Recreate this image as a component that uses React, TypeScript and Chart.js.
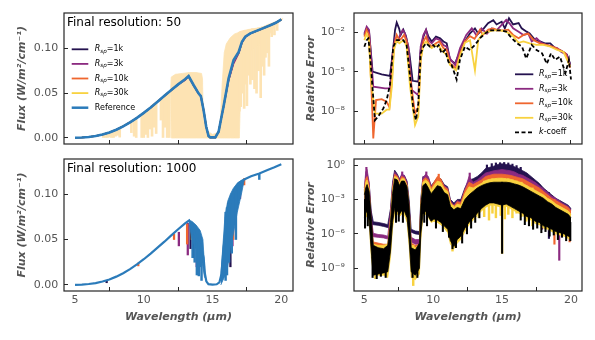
import React, { useEffect, useRef } from 'react';
import { Chart, registerables } from 'chart.js';

Chart.register(...registerables);

const FONT = "'DejaVu Sans', sans-serif";
Chart.defaults.font.family = FONT;

type Pt = [number, number];
type Tri = [number, number, number];

// ---------- colours ----------
const C1K = '#24124f';
const C3K = '#8b2a80';
const C10K = '#ef662f';
const C30K = '#f8d240';
const CREF = '#2b7bba';
const CK = '#000000';
const CHR = '#fde3b3';

// ---------- ticks / labels ----------
const xTickValues = [5, 10, 15, 20];
const xTickLabels = ['5', '10', '15', '20'];
const fluxTickValues = [0, 0.05, 0.1];
const fluxTickLabels = ['0.00', '0.05', '0.10'];
const errTopTickValues = [1e-8, 1e-5, 1e-2];
const errTopTickLabels = ['10⁻⁸', '10⁻⁵', '10⁻²'];
const errBotTickValues = [1e-9, 1e-6, 1e-3, 1];
const errBotTickLabels = ['10⁻⁹', '10⁻⁶', '10⁻³', '10⁰'];
const panelTitles = ['Final resolution: 50', 'Final resolution: 1000'];
const seriesNames = ['1k', '3k', '10k', '30k'];
const fluxTitle = 'Flux (W/m²/cm⁻¹)';
const errTitle = 'Relative Error';
const waveTitle = 'Wavelength (μm)';

// ---------- top-left: flux at resolution 50 ----------
const ref50: Pt[] = [[5.0,0.0002],[5.5,0.0005],[6.0,0.0011],[6.5,0.0022],[7.0,0.0038],[7.5,0.0062],[8.0,0.0092],[8.5,0.013],[9.0,0.0175],[9.5,0.0225],[10.0,0.028],[10.5,0.034],[11.0,0.0405],[11.5,0.047],[12.0,0.0535],[12.5,0.0598],[13.0,0.0655],[13.26,0.0691],[13.62,0.0591],[13.98,0.0498],[14.15,0.0468],[14.35,0.031],[14.54,0.0126],[14.71,0.0022],[14.83,0.0007],[15.2,0.0007],[15.44,0.007],[15.56,0.0164],[15.8,0.035],[16.17,0.0665],[16.53,0.087],[16.9,0.096],[17.14,0.1074],[17.38,0.113],[17.75,0.1167],[18.47,0.1211],[19.2,0.1258],[19.6,0.1285],[20.0,0.1322]];
const tl1k: Pt[] = [[5.0,0.0002],[5.5,0.0005],[6.0,0.0011],[6.5,0.0022],[7.0,0.0038],[7.5,0.0062],[8.0,0.0092],[8.5,0.013],[9.0,0.0175],[9.5,0.0225],[10.0,0.028],[10.5,0.034],[11.0,0.0405],[11.5,0.047],[12.0,0.0535],[12.5,0.0597],[13.0,0.0652],[13.26,0.0686],[13.62,0.0589],[13.98,0.0497],[14.15,0.0466],[14.35,0.031],[14.54,0.0126],[14.71,0.0022],[14.83,0.0007],[15.2,0.0007],[15.44,0.007],[15.56,0.0164],[15.8,0.035],[16.17,0.065],[16.53,0.085],[16.9,0.095],[17.14,0.1068],[17.38,0.1127],[17.75,0.1166],[18.47,0.1211],[19.2,0.1258],[19.6,0.1285],[20.0,0.1322]];
const tl3k: Pt[] = [[5.0,0.0002],[5.5,0.0005],[6.0,0.0011],[6.5,0.0022],[7.0,0.0038],[7.5,0.0062],[8.0,0.0092],[8.5,0.013],[9.0,0.0175],[9.5,0.0225],[10.0,0.028],[10.5,0.034],[11.0,0.0405],[11.5,0.047],[12.0,0.0535],[12.5,0.0596],[13.0,0.0645],[13.26,0.0684],[13.62,0.0588],[13.98,0.0497],[14.15,0.0466],[14.35,0.031],[14.54,0.0126],[14.71,0.0022],[14.83,0.0007],[15.2,0.0007],[15.44,0.007],[15.56,0.0164],[15.8,0.035],[16.17,0.0645],[16.53,0.083],[16.9,0.0945],[17.14,0.1065],[17.38,0.1126],[17.75,0.1166],[18.47,0.1211],[19.2,0.1258],[19.6,0.1285],[20.0,0.1322]];
const tl10k: Pt[] = [[5.0,0.0002],[5.5,0.0005],[6.0,0.0011],[6.5,0.0022],[7.0,0.0038],[7.5,0.0062],[8.0,0.0092],[8.5,0.013],[9.0,0.0175],[9.5,0.0225],[10.0,0.028],[10.5,0.034],[11.0,0.0405],[11.5,0.047],[12.0,0.0535],[12.5,0.0598],[13.0,0.0653],[13.26,0.069],[13.62,0.059],[13.98,0.0498],[14.15,0.0468],[14.35,0.031],[14.54,0.0126],[14.71,0.0022],[14.83,0.0007],[15.2,0.0007],[15.44,0.007],[15.56,0.0164],[15.8,0.035],[16.17,0.066],[16.53,0.0862],[16.9,0.0957],[17.14,0.1072],[17.38,0.113],[17.75,0.1167],[18.47,0.1211],[19.2,0.1258],[19.6,0.1285],[20.0,0.1322]];
const tl30k: Pt[] = [[5.0,0.0002],[5.5,0.0005],[6.0,0.0011],[6.5,0.0022],[7.0,0.0038],[7.5,0.0062],[8.0,0.0092],[8.5,0.013],[9.0,0.0175],[9.5,0.0225],[10.0,0.028],[10.5,0.034],[11.0,0.0405],[11.5,0.047],[12.0,0.0535],[12.5,0.0598],[13.0,0.0655],[13.26,0.0691],[13.62,0.0591],[13.98,0.0498],[14.15,0.0468],[14.35,0.031],[14.54,0.0126],[14.71,0.0022],[14.83,0.0007],[15.2,0.0007],[15.44,0.007],[15.56,0.0164],[15.8,0.035],[16.17,0.0663],[16.53,0.0866],[16.9,0.0959],[17.14,0.1073],[17.38,0.113],[17.75,0.1167],[18.47,0.1211],[19.2,0.1258],[19.6,0.1285],[20.0,0.1322]];
// high-resolution spectrum: dense band [x, low, high] and single lines [x, low, high]
const hiResBand: Tri[] = [[11.95,0.053,0.053],[12.0,0.0,0.068],[12.3,0.0,0.071],[12.8,0.0,0.072],[13.3,0.0,0.073],[13.8,0.0,0.073],[14.2,0.0,0.072],[14.27,0.0,0.066],[14.33,0.0,0.02],[14.6,0.0,0.008],[15.0,0.0,0.004],[15.4,0.0,0.006],[15.55,0.0,0.015],[15.7,0.0,0.06],[15.85,0.0,0.095],[16.0,0.0,0.105],[16.3,0.0,0.112],[16.6,0.0,0.116],[16.95,0.0,0.118],[17.05,0.06,0.119],[17.3,0.085,0.12],[17.6,0.095,0.121],[18.0,0.1,0.122],[18.5,0.105,0.123],[19.0,0.112,0.126],[19.5,0.125,0.129],[20.0,0.131,0.1325],[20.1,0.133,0.1335]];
const hiResLines: Tri[] = [[7.05,0.0,0.0042],[7.2,0.0,0.0048],[7.35,0.0,0.0054],[7.5,0.001,0.006],[7.65,0.0,0.0067],[7.8,0.0,0.0075],[7.95,0.002,0.0082],[8.1,0.003,0.009],[8.25,0.001,0.0098],[9.1,0.006,0.0185],[9.3,0.002,0.0205],[9.45,0.0,0.022],[9.85,0.0,0.0265],[10.0,0.0,0.0283],[10.15,0.004,0.03],[10.3,0.0,0.032],[10.45,0.01,0.034],[10.6,0.002,0.036],[10.75,0.012,0.038],[10.9,0.005,0.04],[11.25,0.02,0.044],[11.4,0.0,0.046],[11.55,0.012,0.048],[11.7,0.0,0.05],[11.85,0.0,0.052],[16.95,0.03,0.118],[17.05,0.035,0.119],[17.15,0.05,0.119],[17.3,0.033,0.12],[17.4,0.06,0.12],[17.5,0.036,0.12],[17.65,0.07,0.121],[17.75,0.06,0.121],[17.9,0.065,0.122],[18.05,0.055,0.122],[18.2,0.05,0.122],[18.35,0.075,0.123],[18.5,0.045,0.123],[18.6,0.08,0.124],[18.75,0.07,0.124],[18.85,0.09,0.125],[19.0,0.095,0.126],[19.1,0.08,0.127],[19.3,0.113,0.128],[19.5,0.115,0.129],[19.7,0.12,0.13]];

// ---------- top-right: relative error (log10) at resolution 50 ----------
const tr1k: Pt[] = [[5.0,-2.2],[5.17,-1.7],[5.34,-1.95],[5.6,-5.0],[6.26,-5.2],[6.86,-5.33],[7.06,-3.6],[7.23,-1.82],[7.35,-1.26],[7.52,-1.7],[7.64,-2.2],[7.83,-1.8],[8.03,-2.33],[8.27,-3.6],[8.51,-5.7],[8.92,-5.77],[9.09,-3.35],[9.29,-2.33],[9.48,-1.82],[9.65,-2.33],[9.89,-2.7],[10.2,-2.33],[10.5,-2.46],[10.74,-2.7],[10.98,-2.84],[11.22,-4.1],[11.59,-4.37],[11.95,-3.45],[12.3,-2.7],[12.67,-2.08],[13.03,-1.7],[13.27,-2.1],[13.6,-1.8],[13.98,-1.3],[14.36,-1.07],[14.6,-1.4],[14.97,-1.2],[15.2,-1.7],[15.5,-0.93],[15.8,-1.4],[16.2,-1.3],[16.42,-1.7],[16.78,-1.95],[17.0,-2.08],[17.4,-2.6],[17.75,-2.7],[18.1,-2.84],[18.5,-2.84],[18.85,-3.2],[19.2,-3.35],[19.45,-3.5],[19.7,-3.7],[19.94,-4.4]];
const tr3k: Pt[] = [[5.0,-2.1],[5.17,-1.57],[5.34,-1.82],[5.65,-6.15],[6.5,-6.27],[6.86,-6.27],[7.06,-3.6],[7.23,-2.46],[7.42,-2.7],[7.6,-2.2],[7.78,-1.82],[7.95,-2.08],[8.2,-3.1],[8.44,-6.4],[8.92,-6.8],[9.09,-3.1],[9.29,-2.2],[9.48,-1.82],[9.65,-2.6],[9.89,-2.84],[10.2,-2.46],[10.5,-2.6],[10.74,-2.97],[10.98,-3.1],[11.22,-4.0],[11.59,-4.5],[11.95,-3.2],[12.4,-2.2],[12.8,-1.7],[13.15,-2.25],[13.5,-1.7],[13.9,-2.1],[14.25,-1.7],[14.6,-1.85],[15.0,-1.4],[15.3,-1.05],[15.6,-1.4],[15.8,-1.7],[16.2,-1.95],[16.55,-2.2],[16.9,-2.1],[17.15,-2.7],[17.5,-2.45],[17.85,-2.8],[18.2,-2.96],[18.6,-3.1],[19.0,-3.2],[19.3,-3.5],[19.7,-3.7],[19.94,-4.5]];
const tr10k: Pt[] = [[5.0,-2.33],[5.17,-1.82],[5.34,-2.2],[5.53,-6.66],[5.65,-10.1],[5.85,-7.17],[6.26,-7.1],[6.62,-7.3],[6.82,-7.7],[7.0,-5.64],[7.15,-3.1],[7.35,-2.2],[7.54,-2.6],[7.71,-2.46],[7.88,-2.2],[8.07,-2.7],[8.32,-5.4],[8.68,-8.2],[8.92,-7.7],[9.09,-4.1],[9.29,-2.7],[9.48,-2.33],[9.65,-2.84],[9.89,-3.1],[10.2,-2.84],[10.45,-2.7],[10.74,-3.2],[10.98,-3.35],[11.22,-4.37],[11.66,-4.75],[11.95,-3.6],[12.3,-2.7],[12.67,-2.3],[13.0,-2.5],[13.4,-1.8],[13.6,-2.2],[14.0,-1.8],[14.36,-1.7],[14.7,-1.85],[15.1,-1.85],[15.45,-1.8],[15.8,-2.2],[16.2,-2.45],[16.55,-2.2],[16.9,-2.1],[17.3,-2.6],[17.75,-2.84],[18.2,-2.96],[18.7,-3.1],[19.2,-3.35],[19.6,-3.6],[19.94,-4.7]];
const tr30k: Pt[] = [[5.0,-2.6],[5.17,-2.1],[5.34,-2.6],[5.46,-5.4],[5.77,-8.2],[6.26,-8.2],[6.62,-7.9],[6.82,-7.9],[7.0,-6.1],[7.15,-3.35],[7.35,-2.6],[7.54,-2.84],[7.71,-2.7],[7.88,-2.6],[8.07,-3.1],[8.32,-6.15],[8.68,-9.07],[8.92,-8.4],[9.09,-4.1],[9.29,-2.97],[9.48,-2.7],[9.65,-2.97],[9.89,-3.2],[10.2,-2.97],[10.45,-3.1],[10.74,-3.5],[10.98,-3.73],[11.22,-4.5],[11.66,-4.9],[11.95,-3.8],[12.3,-2.8],[12.67,-2.6],[13.03,-4.9],[13.27,-2.6],[13.6,-2.1],[14.0,-1.95],[14.36,-1.85],[14.85,-1.85],[15.3,-1.95],[15.8,-2.3],[16.2,-2.8],[16.55,-2.7],[17.0,-2.84],[17.5,-2.96],[18.0,-2.96],[18.5,-3.1],[19.0,-3.35],[19.45,-3.5],[19.94,-4.6]];
const trK: Pt[] = [[5.0,-3.1],[5.17,-2.6],[5.3,-2.46],[5.46,-4.37],[5.77,-8.7],[6.02,-8.4],[6.38,-7.8],[6.62,-7.17],[6.86,-6.0],[7.1,-3.1],[7.35,-2.6],[7.83,-2.6],[8.07,-2.97],[8.32,-5.4],[8.56,-7.9],[8.75,-8.7],[8.92,-7.4],[9.09,-3.6],[9.29,-3.1],[9.48,-2.84],[9.77,-3.1],[10.0,-2.97],[10.2,-3.2],[10.4,-2.97],[10.6,-3.6],[10.86,-3.35],[11.1,-4.24],[11.34,-4.5],[11.7,-5.6],[11.94,-4.1],[12.3,-3.1],[12.67,-3.35],[13.03,-2.96],[13.4,-2.45],[13.75,-2.1],[14.1,-1.85],[14.5,-1.85],[14.85,-1.85],[15.3,-1.95],[15.7,-2.45],[16.1,-2.84],[16.45,-3.1],[16.75,-4.0],[17.15,-2.96],[17.5,-3.35],[17.9,-3.6],[18.25,-4.4],[18.55,-3.6],[18.85,-4.1],[19.2,-3.86],[19.6,-5.1],[19.85,-4.1],[20.0,-5.6]];

// ---------- bottom-left: flux at resolution 1000 ----------
const ref1000: Pt[] = [[5.0,0.0002],[5.5,0.0005],[6.0,0.0011],[6.5,0.0021],[7.0,0.0038],[7.5,0.0061],[8.0,0.0092],[8.5,0.013],[9.0,0.0175],[9.5,0.0226],[10.0,0.0283],[10.5,0.0345],[11.0,0.041],[11.5,0.0476],[12.0,0.0546],[12.5,0.0613],[13.0,0.0678],[13.3,0.071],[13.45,0.066],[13.6,0.061],[13.8,0.052],[14.0,0.046],[14.2,0.04],[14.35,0.03],[14.45,0.012],[14.55,0.004],[14.7,0.001],[15.0,0.0005],[15.3,0.0008],[15.5,0.003],[15.65,0.012],[15.8,0.04],[16.0,0.07],[16.3,0.09],[16.6,0.103],[16.9,0.112],[17.3,0.116],[17.8,0.1195],[18.4,0.1225],[19.0,0.1265],[19.5,0.1295],[20.0,0.1327]];
const ref1000BandA: Tri[] = [[13.3,0.068,0.071],[13.5,0.05,0.07],[13.8,0.04,0.066],[14.1,0.035,0.06],[14.3,0.02,0.05],[14.42,0.008,0.02]];
const ref1000BandB: Tri[] = [[15.6,0.0,0.01],[15.9,0.01,0.075],[16.1,0.02,0.092],[16.3,0.04,0.1],[16.5,0.055,0.106],[16.8,0.08,0.112],[17.1,0.1,0.115],[17.3,0.115,0.116]];
const ref1000Lines: Tri[] = [[13.55,0.03,0.065],[13.7,0.025,0.06],[13.86,0.011,0.055],[14.0,0.01,0.048],[14.12,0.02,0.045],[14.2,0.005,0.042],[15.95,0.005,0.08],[16.05,0.011,0.085],[16.2,0.025,0.09],[16.4,0.035,0.1],[16.7,0.05,0.108],[18.4,0.116,0.1225]];
const bl1kLines: Tri[] = [[7.3,0.0025,0.0048],[13.4,0.04,0.066],[13.6,0.03,0.062],[16.15,0.03,0.09],[16.3,0.02,0.07]];
const bl3kLines: Tri[] = [[12.55,0.043,0.058],[13.2,0.033,0.068],[13.85,0.02,0.05],[16.45,0.043,0.1],[17.0,0.095,0.112]];
const bl10kLines: Tri[] = [[9.6,0.021,0.024],[12.2,0.05,0.056],[13.15,0.045,0.067],[16.5,0.05,0.1],[17.3,0.11,0.117]];
const bl30kLines: Tri[] = [[13.5,0.05,0.065],[16.35,0.055,0.095]];

// ---------- bottom-right: relative error (log10) at resolution 1000, [x, low, high] ----------
const br1k: Tri[] = [[5.0,-3.0,-2.2],[5.1,-3.0,-1.0],[5.2,-3.0,-0.8],[5.35,-3.5,-1.6],[5.5,-5.2,-4.0],[5.65,-5.2,-4.95],[6.0,-5.25,-5.0],[6.4,-5.35,-5.1],[6.7,-5.45,-5.2],[6.9,-5.5,-3.8],[7.05,-3.5,-1.5],[7.2,-2.5,-0.45],[7.4,-2.5,-0.8],[7.55,-3.0,-1.2],[7.7,-2.5,-0.9],[7.9,-2.5,-0.9],[8.1,-3.0,-1.4],[8.25,-5.0,-3.0],[8.4,-5.85,-5.6],[8.7,-6.0,-5.75],[9.0,-6.05,-5.8],[9.1,-5.0,-3.0],[9.25,-3.0,-1.0],[9.45,-3.0,-1.1],[9.65,-3.0,-1.1],[9.85,-3.5,-1.8],[10.05,-3.5,-1.5],[10.3,-3.5,-1.1],[10.55,-3.5,-1.2],[10.8,-3.8,-1.7],[11.05,-4.0,-1.9],[11.25,-5.0,-3.0],[11.5,-5.3,-3.3],[11.75,-5.0,-3.0],[12.0,-5.0,-3.0],[12.3,-4.0,-2.0],[12.6,-3.5,-1.3],[12.9,-3.2,-1.2],[13.2,-3.0,-1.0],[13.5,-2.5,-0.7],[13.8,-2.2,-0.3],[14.1,-2.0,-0.2],[14.4,-2.0,-0.1],[14.7,-2.0,0.05],[15.0,-2.0,0.1],[15.3,-2.0,0.05],[15.6,-2.0,0.0],[15.9,-2.2,-0.15],[16.2,-2.3,-0.3],[16.5,-2.5,-0.5],[16.8,-2.7,-0.7],[17.1,-3.0,-1.0],[17.4,-3.2,-1.3],[17.7,-3.4,-1.6],[18.0,-3.6,-2.0],[18.3,-3.8,-2.3],[18.6,-4.0,-2.6],[18.9,-4.3,-2.9],[19.2,-4.5,-3.1],[19.5,-4.7,-3.3],[19.8,-5.0,-3.5],[20.0,-5.2,-3.8]];
const br3k: Tri[] = [[5.0,-3.5,-2.0],[5.1,-3.5,-0.6],[5.2,-3.5,-0.4],[5.35,-4.0,-1.5],[5.5,-6.0,-4.5],[5.65,-6.25,-5.95],[6.0,-6.3,-6.05],[6.4,-6.35,-6.1],[6.7,-6.45,-6.2],[6.9,-6.3,-4.0],[7.05,-4.0,-1.7],[7.2,-3.0,-0.6],[7.4,-3.0,-0.9],[7.55,-3.5,-1.3],[7.7,-3.0,-0.8],[7.9,-3.0,-0.9],[8.1,-3.5,-1.5],[8.25,-5.5,-3.5],[8.4,-6.7,-6.3],[8.7,-6.9,-6.5],[9.0,-6.9,-6.5],[9.1,-5.5,-3.2],[9.25,-3.5,-1.1],[9.45,-3.2,-0.8],[9.65,-3.3,-1.0],[9.85,-4.0,-1.9],[10.05,-4.0,-1.6],[10.3,-4.0,-1.2],[10.55,-4.0,-1.3],[10.8,-4.2,-1.8],[11.05,-4.5,-2.0],[11.25,-5.5,-3.1],[11.5,-6.0,-3.5],[11.75,-5.5,-3.1],[12.0,-5.5,-3.2],[12.3,-4.5,-2.1],[12.6,-3.8,-1.0],[12.9,-3.5,-1.5],[13.2,-3.3,-1.3],[13.5,-3.0,-1.0],[13.8,-2.7,-0.7],[14.1,-2.5,-0.6],[14.4,-2.5,-0.5],[14.7,-2.5,-0.45],[15.0,-2.5,-0.4],[15.3,-2.5,-0.45],[15.6,-2.6,-0.5],[15.9,-2.8,-0.6],[16.2,-3.0,-0.8],[16.5,-3.0,-0.9],[16.8,-3.2,-1.1],[17.1,-3.4,-1.3],[17.4,-3.6,-1.5],[17.7,-3.8,-1.8],[18.0,-4.0,-2.1],[18.3,-4.2,-2.4],[18.6,-4.4,-2.7],[18.9,-4.6,-2.9],[19.2,-4.8,-3.2],[19.5,-5.0,-3.4],[19.8,-5.2,-3.6],[20.0,-5.4,-3.9]];
const br10k: Tri[] = [[5.0,-4.0,-2.3],[5.1,-4.0,-1.2],[5.2,-4.0,-1.0],[5.35,-4.5,-1.9],[5.5,-7.0,-5.0],[5.65,-7.2,-6.7],[6.0,-7.3,-6.8],[6.4,-7.4,-6.9],[6.7,-7.5,-6.9],[6.9,-7.0,-4.5],[7.05,-4.5,-2.0],[7.2,-3.5,-0.8],[7.4,-3.5,-1.0],[7.55,-4.0,-1.5],[7.7,-3.5,-1.0],[7.9,-3.5,-1.1],[8.1,-4.0,-1.7],[8.25,-6.0,-3.6],[8.4,-7.5,-6.8],[8.7,-7.6,-7.0],[9.0,-7.5,-6.9],[9.1,-6.0,-3.3],[9.25,-4.0,-1.3],[9.45,-3.7,-1.1],[9.65,-3.8,-1.3],[9.85,-4.3,-2.0],[10.05,-4.3,-1.5],[10.3,-4.3,-1.0],[10.55,-4.5,-1.2],[10.8,-4.6,-1.9],[11.05,-5.0,-2.1],[11.25,-6.0,-3.2],[11.5,-6.5,-3.6],[11.75,-6.0,-3.2],[12.0,-6.0,-3.3],[12.3,-5.0,-2.2],[12.6,-4.3,-1.5],[12.9,-4.0,-1.7],[13.2,-3.8,-1.5],[13.5,-3.5,-1.3],[13.8,-3.2,-1.0],[14.1,-3.0,-0.9],[14.4,-3.0,-0.8],[14.7,-3.0,-0.8],[15.0,-3.0,-0.8],[15.3,-3.0,-0.85],[15.6,-3.1,-0.9],[15.9,-3.3,-1.0],[16.2,-3.5,-1.1],[16.5,-3.5,-1.2],[16.8,-3.7,-1.4],[17.1,-3.9,-1.6],[17.4,-4.1,-1.8],[17.7,-4.3,-2.0],[18.0,-4.5,-2.3],[18.3,-4.7,-2.6],[18.6,-4.9,-2.9],[18.9,-5.1,-3.1],[19.2,-5.3,-3.3],[19.5,-5.5,-3.5],[19.8,-5.7,-3.7],[20.0,-5.9,-4.0]];
const br30k: Tri[] = [[5.0,-5.0,-2.5],[5.1,-4.5,-1.5],[5.2,-4.5,-1.3],[5.35,-5.0,-2.1],[5.5,-8.0,-5.5],[5.65,-9.5,-6.9],[6.0,-9.6,-7.0],[6.4,-9.6,-7.0],[6.7,-9.8,-6.9],[6.9,-8.0,-4.8],[7.05,-5.5,-2.2],[7.2,-4.3,-1.0],[7.4,-4.3,-1.1],[7.55,-4.5,-1.6],[7.7,-4.3,-1.2],[7.9,-4.3,-1.2],[8.1,-5.0,-1.8],[8.25,-7.0,-3.8],[8.4,-9.8,-7.0],[8.7,-10.0,-7.2],[9.0,-9.5,-6.9],[9.1,-6.5,-3.4],[9.25,-4.5,-1.5],[9.45,-4.3,-1.3],[9.65,-4.6,-1.5],[9.85,-5.0,-2.2],[10.05,-4.9,-1.8],[10.3,-5.0,-1.4],[10.55,-5.2,-1.5],[10.8,-5.5,-2.1],[11.05,-5.9,-2.3],[11.25,-6.9,-3.3],[11.5,-7.3,-3.7],[11.75,-6.8,-3.4],[12.0,-6.5,-3.5],[12.3,-5.8,-2.5],[12.6,-5.2,-1.9],[12.9,-4.8,-2.0],[13.2,-4.4,-1.8],[13.5,-4.0,-1.6],[13.8,-3.7,-1.35],[14.1,-3.5,-1.25],[14.4,-3.5,-1.2],[14.7,-3.6,-1.15],[15.0,-3.7,-1.15],[15.3,-3.6,-1.2],[15.6,-3.8,-1.25],[15.9,-4.0,-1.35],[16.2,-4.2,-1.45],[16.5,-4.4,-1.6],[16.8,-4.7,-1.8],[17.1,-4.8,-2.0],[17.4,-5.1,-2.2],[17.7,-5.2,-2.4],[18.0,-5.5,-2.6],[18.3,-5.6,-2.9],[18.6,-5.8,-3.1],[18.9,-6.0,-3.4],[19.2,-6.1,-3.6],[19.5,-6.2,-3.8],[19.8,-6.4,-4.0],[20.0,-6.5,-4.3]];
const brK: Tri[] = [[5.0,-4.6,-2.6],[5.1,-4.2,-2.0],[5.2,-4.0,-1.7],[5.35,-4.8,-2.3],[5.5,-7.5,-4.5],[5.65,-9.6,-7.0],[6.0,-9.5,-7.2],[6.4,-9.4,-7.3],[6.7,-9.3,-7.0],[6.9,-7.5,-5.0],[7.05,-5.0,-2.5],[7.2,-3.8,-1.2],[7.4,-4.0,-1.3],[7.55,-4.3,-1.8],[7.7,-4.0,-1.4],[7.9,-4.0,-1.4],[8.1,-4.6,-1.9],[8.25,-6.5,-3.5],[8.4,-9.3,-7.2],[8.7,-9.6,-7.4],[9.0,-9.0,-6.8],[9.1,-6.0,-3.5],[9.25,-4.3,-1.8],[9.45,-4.0,-1.6],[9.65,-4.5,-2.0],[9.85,-4.9,-2.5],[10.05,-4.7,-2.2],[10.3,-4.8,-1.8],[10.55,-5.0,-1.9],[10.8,-5.3,-2.4],[11.05,-5.6,-2.6],[11.25,-6.6,-3.6],[11.5,-7.1,-3.9],[11.75,-6.5,-3.7],[12.0,-6.2,-3.8],[12.3,-5.5,-3.0],[12.6,-5.0,-2.6],[12.9,-4.6,-2.3],[13.2,-4.2,-2.0],[13.5,-3.8,-1.8],[13.8,-3.5,-1.65],[14.1,-3.3,-1.55],[14.4,-3.3,-1.5],[14.7,-3.4,-1.5],[15.0,-3.5,-1.5],[15.3,-3.4,-1.5],[15.6,-3.6,-1.55],[15.9,-3.8,-1.65],[16.2,-4.0,-1.75],[16.5,-4.2,-1.9],[16.8,-4.5,-2.1],[17.1,-4.6,-2.3],[17.4,-4.9,-2.5],[17.7,-5.0,-2.7],[18.0,-5.3,-2.9],[18.3,-5.4,-3.2],[18.6,-5.6,-3.4],[18.9,-5.8,-3.7],[19.2,-5.9,-3.9],[19.5,-6.0,-4.1],[19.8,-6.2,-4.3],[20.0,-6.3,-4.6]];
const br1kLines: Tri[] = [[12.8,-4.2,-1.5],[13.9,-1.5,0.0],[14.25,-1.5,0.12],[14.55,-1.5,0.18],[14.85,-1.5,0.2],[15.15,-1.5,0.22],[15.45,-1.5,0.18],[15.75,-1.5,0.08],[16.05,-1.5,-0.05],[16.35,-1.5,-0.2],[18.4,-6.4,-2.4]];
const br3kLines: Tri[] = [[5.15,-3.0,-0.2],[7.75,-3.0,-0.6],[9.5,-3.0,-0.6],[12.65,-3.5,-0.7],[17.9,-5.6,-2.0],[19.15,-8.3,-3.1]];
const br10kLines: Tri[] = [[8.8,-9.4,-7.0],[10.4,-3.5,-0.8],[18.8,-6.9,-3.0],[19.9,-6.7,-4.0]];
const br30kLines: Tri[] = [[5.8,-9.9,-7.0],[8.55,-10.5,-7.0],[11.4,-7.5,-3.5],[13.3,-4.6,-1.8],[13.7,-4.5,-1.4],[14.05,-4.8,-1.3],[14.3,-4.2,-1.2],[14.55,-4.6,-1.2],[14.9,-4.4,-1.2],[15.0,-7.7,-1.2],[15.2,-4.7,-1.2],[15.45,-4.3,-1.2],[15.75,-4.6,-1.3],[16.05,-4.2,-1.4],[16.4,-4.5,-1.5],[16.75,-4.9,-1.8],[17.2,-5.3,-2.0]];
const brKLines: Tri[] = [[5.05,-5.5,-3.0],[5.25,-5.3,-2.5],[5.6,-9.8,-8.0],[5.9,-9.9,-8.5],[6.2,-9.7,-8.5],[6.55,-9.8,-8.5],[7.3,-5.0,-3.0],[7.5,-4.9,-3.0],[7.8,-5.0,-3.0],[8.5,-9.8,-8.5],[8.85,-9.8,-8.5],[9.35,-5.0,-3.0],[9.55,-5.3,-3.0],[10.2,-5.5,-3.5],[10.7,-5.8,-3.5],[11.15,-6.3,-4.0],[11.4,-7.3,-5.0],[11.65,-7.2,-5.0],[12.1,-6.8,-5.0],[12.45,-6.0,-4.0],[12.75,-5.5,-3.5],[13.05,-5.0,-3.0],[13.35,-4.6,-2.5],[15.0,-7.7,-1.5],[16.35,-4.8,-3.0],[16.65,-5.2,-3.0],[16.95,-5.3,-3.5],[17.25,-5.6,-3.5],[17.55,-5.5,-3.5],[17.85,-5.9,-4.0],[18.15,-5.8,-4.0],[18.45,-6.2,-4.0],[18.75,-6.1,-4.5],[19.05,-6.5,-4.5],[19.35,-6.3,-4.5],[19.65,-6.6,-5.0],[19.95,-6.6,-5.0]];

// ---------- helpers ----------
const lin = (v: number) => v;
const pow10 = (v: number) => Math.pow(10, v);

function lineDs(pts: Pt[], color: string, width: number, conv = lin, dash: number[] = []) {
  return { type: 'line', data: pts.map(([x, y]) => ({ x, y: conv(y) })), borderColor: color, borderWidth: width, borderDash: dash, pointRadius: 0, fill: false, tension: 0 };
}
function bandDs(tris: Tri[], color: string, conv = lin) {
  return [
    { type: 'line', data: tris.map(([x, , hi]) => ({ x, y: conv(hi) })), borderColor: color, borderWidth: 0.8, pointRadius: 0, fill: false, tension: 0 },
    { type: 'line', data: tris.map(([x, lo]) => ({ x, y: conv(lo) })), borderColor: color, borderWidth: 0.8, pointRadius: 0, fill: '-1', backgroundColor: color, tension: 0 },
  ];
}
function spikeDs(tris: Tri[], color: string, thickness: number, conv = lin) {
  return { type: 'bar', data: tris.map(([x, lo, hi]) => ({ x, y: [conv(lo), conv(hi)] })), backgroundColor: color, borderWidth: 0, barThickness: thickness, grouped: false };
}
function ordered(ds: any[]) {
  ds.forEach((d, i) => { d.order = ds.length - i; });
  return ds;
}

const tickFont = { family: FONT, size: 11 };
const titleFont = { family: FONT, size: 11, style: 'italic' as const, weight: 'bold' as const };
const GREY = '#555555';
const TICKCOL = '#262626';

function xScale(min: number, max: number, withLabels: boolean) {
  return {
    type: 'linear', min, max, offset: false, bounds: 'data',
    afterBuildTicks: (s: any) => { s.ticks = xTickValues.map((v) => ({ value: v })); },
    afterFit: (s: any) => { s.height = withLabels ? 49 : 8; s.paddingLeft = 0; s.paddingRight = 0; s.paddingTop = 0; s.paddingBottom = 0; },
    grid: { display: true, drawOnChartArea: false, drawTicks: true, tickLength: -4, tickColor: TICKCOL, tickWidth: 1 },
    border: { display: false },
    ticks: { display: withLabels, autoSkip: false, maxRotation: 0, padding: 6.4, color: GREY, font: tickFont, callback: (_v: any, i: number) => xTickLabels[i] },
    title: { display: withLabels, text: waveTitle, color: GREY, font: titleFont, padding: { top: 0, bottom: 16 } },
  };
}
function yScale(kind: string, min: number, max: number, values: number[], labels: string[], width: number, pad: number, title: string, titlePad: number) {
  return {
    type: kind, min, max, bounds: 'data',
    afterBuildTicks: (s: any) => { s.ticks = values.map((v) => ({ value: v })); },
    afterFit: (s: any) => { s.width = width; s.paddingLeft = 0; s.paddingRight = 0; s.paddingTop = 0; s.paddingBottom = 0; },
    grid: { display: true, drawOnChartArea: false, drawTicks: true, tickLength: -4, tickColor: TICKCOL, tickWidth: 1 },
    border: { display: false },
    ticks: { autoSkip: false, padding: pad, color: GREY, font: tickFont, callback: (_v: any, i: number) => labels[i] },
    title: { display: true, text: title, color: GREY, font: titleFont, padding: { top: titlePad, bottom: 0 } },
  };
}

type LegendPart = { t: string; f: string; dy?: number };
function rspParts(name: string): LegendPart[] {
  return [
    { t: 'R', f: `italic 8px ${FONT}` },
    { t: 'sp', f: `italic 5.6px ${FONT}`, dy: 1.8 },
    { t: '=' + name, f: `8px ${FONT}` },
  ];
}
const seriesColors = [C1K, C3K, C10K, C30K];
const legendTL = [
  ...seriesNames.map((n, i) => ({ color: seriesColors[i], width: 1.8, dash: [] as number[], parts: rspParts(n) })),
  { color: CREF, width: 2.5, dash: [] as number[], parts: [{ t: 'Reference', f: `8px ${FONT}` }] },
];
const legendTR = [
  ...seriesNames.map((n, i) => ({ color: seriesColors[i], width: 1.8, dash: [] as number[], parts: rspParts(n) })),
  { color: CK, width: 1.8, dash: [4, 2.5], parts: [{ t: 'k', f: `italic 8px ${FONT}` }, { t: '-coeff', f: `8px ${FONT}` }] },
];

const panelPlugin = {
  id: 'panel',
  afterDatasetsDraw(chart: any, _a: any, opts: any) {
    const { ctx, chartArea: a } = chart;
    ctx.save();
    if (opts.legend) {
      const lg = opts.legend;
      lg.items.forEach((it: any, i: number) => {
        const y = a.top + lg.dy + i * lg.step;
        const x0 = a.left + lg.dx;
        ctx.beginPath();
        ctx.setLineDash(it.dash);
        ctx.strokeStyle = it.color;
        ctx.lineWidth = it.width;
        ctx.moveTo(x0, y);
        ctx.lineTo(x0 + lg.len, y);
        ctx.stroke();
        ctx.setLineDash([]);
        let tx = x0 + lg.len + lg.gap;
        ctx.fillStyle = '#000';
        ctx.textBaseline = 'middle';
        ctx.textAlign = 'left';
        it.parts.forEach((p: LegendPart) => {
          ctx.font = p.f;
          ctx.fillText(p.t, tx, y + (p.dy || 0));
          tx += ctx.measureText(p.t).width;
        });
      });
    }
    if (opts.title) {
      ctx.fillStyle = '#000';
      ctx.font = `12px ${FONT}`;
      ctx.textBaseline = 'middle';
      ctx.textAlign = 'left';
      ctx.fillText(opts.title, a.left + 3, a.top + 9.5);
    }
    ctx.strokeStyle = TICKCOL;
    ctx.lineWidth = 1.2;
    ctx.strokeRect(a.left, a.top, a.right - a.left, a.bottom - a.top);
    ctx.restore();
  },
};

function baseConfig(datasets: any[], scales: any, padding: any, panel: any) {
  return {
    type: 'line',
    data: { datasets: ordered(datasets) },
    options: {
      animation: false,
      responsive: false,
      maintainAspectRatio: false,
      events: [],
      layout: { padding },
      scales,
      plugins: { legend: { display: false }, tooltip: { enabled: false }, panel },
    },
    plugins: [panelPlugin],
  } as any;
}

function makeTL() {
  const ds = [
    ...bandDs(hiResBand, CHR),
    spikeDs(hiResLines, CHR, 2),
    lineDs(tl1k, C1K, 1.6),
    lineDs(tl3k, C3K, 1.6),
    lineDs(tl10k, C10K, 1.6),
    lineDs(tl30k, C30K, 1.6),
    lineDs(ref50, CREF, 2.6),
  ];
  return baseConfig(ds, {
    x: xScale(4.2, 20.85, false),
    y: yScale('linear', -0.0067, 0.1394, fluxTickValues, fluxTickLabels, 64, 9.7, fluxTitle, 15.4),
  }, { left: 0, right: 4, top: 13, bottom: 0 }, { title: panelTitles[0], legend: { dx: 7.7, dy: 36.3, step: 14.6, len: 16.6, gap: 6.5, items: legendTL } });
}

function makeTR() {
  const ds = [
    lineDs(tr1k, C1K, 1.8, pow10),
    lineDs(tr3k, C3K, 1.8, pow10),
    lineDs(tr10k, C10K, 1.8, pow10),
    lineDs(tr30k, C30K, 1.8, pow10),
    lineDs(trK, CK, 1.8, pow10, [4, 2.5]),
  ];
  return baseConfig(ds, {
    x: xScale(4.25, 20.8, false),
    y: yScale('logarithmic', Math.pow(10, -10.515), Math.pow(10, -0.529), errTopTickValues, errTopTickLabels, 57, 13, errTitle, 7.4),
  }, { left: 0, right: 13, top: 13, bottom: 0 }, { legend: { dx: 161, dy: 61.3, step: 14.5, len: 18.3, gap: 5.7, items: legendTR } });
}

function makeBL() {
  const ds = [
    spikeDs(bl1kLines, C1K, 1.6),
    spikeDs(bl3kLines, C3K, 1.6),
    spikeDs(bl10kLines, C10K, 1.6),
    spikeDs(bl30kLines, C30K, 1.6),
    ...bandDs(ref1000BandA, CREF),
    ...bandDs(ref1000BandB, CREF),
    spikeDs(ref1000Lines, CREF, 1.8),
    lineDs(ref1000, CREF, 2.2),
  ];
  return baseConfig(ds, {
    x: xScale(4.2, 20.85, true),
    y: yScale('linear', -0.0066, 0.1385, fluxTickValues, fluxTickLabels, 64, 9.7, fluxTitle, 15.4),
  }, { left: 0, right: 4, top: 7, bottom: 0 }, { title: panelTitles[1] });
}

function makeBR() {
  const ds = [
    ...bandDs(br1k, C1K, pow10),
    spikeDs(br1kLines, C1K, 1.5, pow10),
    ...bandDs(br3k, C3K, pow10),
    spikeDs(br3kLines, C3K, 1.5, pow10),
    ...bandDs(br10k, C10K, pow10),
    spikeDs(br10kLines, C10K, 1.5, pow10),
    ...bandDs(br30k, C30K, pow10),
    spikeDs(br30kLines, C30K, 1.8, pow10),
    ...bandDs(brK, CK, pow10),
    spikeDs(brKLines, CK, 1.4, pow10),
  ];
  return baseConfig(ds, {
    x: xScale(4.25, 20.8, true),
    y: yScale('logarithmic', Math.pow(10, -10.976), Math.pow(10, 0.523), errBotTickValues, errBotTickLabels, 57, 13, errTitle, 7.4),
  }, { left: 0, right: 13, top: 7, bottom: 0 }, {});
}

function ChartPanel({ left, top, width, height, make }: { left: number; top: number; width: number; height: number; make: () => any }) {
  const ref = useRef<HTMLCanvasElement | null>(null);
  useEffect(() => {
    if (!ref.current) return;
    const chart = new Chart(ref.current, make());
    return () => chart.destroy();
  }, [make]);
  return <canvas ref={ref} width={width} height={height} style={{ position: 'absolute', left, top, width, height }} />;
}

export default function App() {
  useEffect(() => {
    document.body.style.margin = '0';
  }, []);
  return (
    <div style={{ position: 'absolute', left: 0, top: 0, width: 595, height: 340, background: '#ffffff', overflow: 'hidden' }}>
      <ChartPanel left={0} top={0} width={297} height={152} make={makeTL} />
      <ChartPanel left={297} top={0} width={298} height={152} make={makeTR} />
      <ChartPanel left={0} top={152} width={297} height={188} make={makeBL} />
      <ChartPanel left={297} top={152} width={298} height={188} make={makeBR} />
    </div>
  );
}
